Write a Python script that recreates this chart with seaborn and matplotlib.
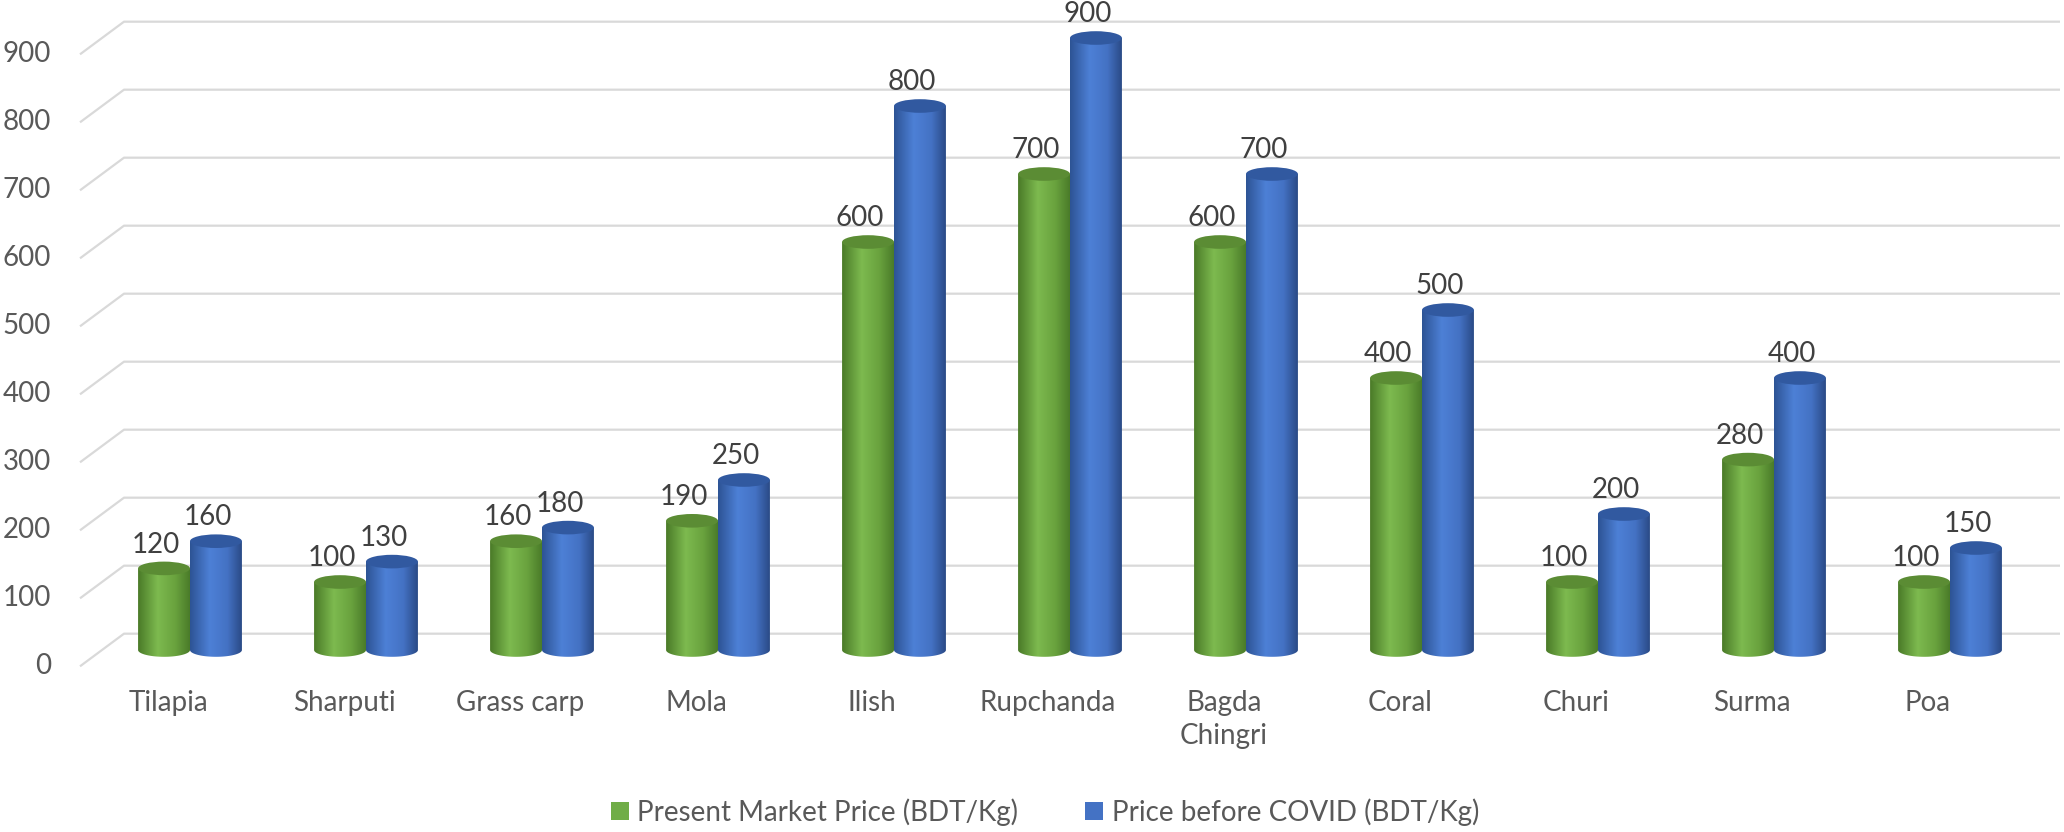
import numpy as np
import pandas as pd
import matplotlib
matplotlib.use("Agg")
import matplotlib.pyplot as plt
import seaborn as sns
from matplotlib.path import Path
from matplotlib.patches import PathPatch, Ellipse, Patch
from matplotlib.colors import LinearSegmentedColormap

# 数据
fish = ['Tilapia', 'Sharputi', 'Grass carp', 'Mola', 'Ilish', 'Rupchanda',
        'Bagda\nChingri', 'Coral', 'Churi', 'Surma', 'Poa']
present_price = [120, 100, 160, 190, 600, 700, 600, 400, 100, 280, 100]
before_covid = [160, 130, 180, 250, 800, 900, 700, 500, 200, 400, 150]
series_names = ['Present Market Price (BDT/Kg)', 'Price before COVID (BDT/Kg)']
y_ticks = [0, 100, 200, 300, 400, 500, 600, 700, 800, 900]

df = pd.DataFrame({
    'fish': fish * 2,
    'price': present_price + before_covid,
    'series': [series_names[0]] * len(fish) + [series_names[1]] * len(fish),
})

sns.set_theme(style="white")
plt.rcParams['font.family'] = ['Lato', 'DejaVu Sans']

W, H = 2064, 832
fig = plt.figure(figsize=(W / 100, H / 100), dpi=100)
ax = fig.add_axes([0, 0, 1, 1])

# 像素 -> 数据坐标的映射（柱子所在的中间深度平面）
x0_px, x_step = 190, 176
y0_px, y_scale = 650, 0.68
xlim = (-x0_px / x_step, (W - x0_px) / x_step)
ylim = ((y0_px - H) / y_scale, y0_px / y_scale)

base_colors = ['#70AD47', '#4472C4']
sns.barplot(data=df, x='fish', y='price', hue='series', hue_order=series_names,
            palette=base_colors, width=0.59, gap=0, saturation=1,
            legend=False, ax=ax)

# 3D 深度偏移
dx, dy = 0.125, 24
grid_color = '#d9d9d9'
for v in y_ticks:
    ax.plot([-0.5 - dx, -0.5 + dx, 10.5 + dx], [v - dy, v + dy, v + dy],
            color=grid_color, lw=1.6, zorder=1, solid_capstyle='butt')
    ax.text(-0.5 - dx - 29 / x_step, v - dy, f"{v}", ha='right', va='center',
            fontsize=20, color='#595959')

for i, name in enumerate(fish):
    ax.text(i - dx, (y0_px - 690) / y_scale, name, ha='center', va='top',
            fontsize=20, color='#595959', linespacing=1.35)

# 圆柱效果
cmaps = [
    LinearSegmentedColormap.from_list('g', [(0, '#4a7a28'), (0.38, '#7dba4f'),
                                            (0.72, '#69a23e'), (1, '#4a7b29')]),
    LinearSegmentedColormap.from_list('b', [(0, '#2d5394'), (0.38, '#4d80d6'),
                                            (0.72, '#4472c4'), (1, '#2a4a86')]),
]
top_colors = ['#5b8c34', '#3159a0']
ell_h = 20
grad = np.linspace(0, 1, 256).reshape(1, -1)

for k, cont in enumerate(ax.containers):
    for rect in cont:
        x0, w, h = rect.get_x(), rect.get_width(), rect.get_height()
        rect.set_visible(False)
        xc = x0 + w / 2
        t = np.linspace(np.pi, 2 * np.pi, 60)
        verts = [(x0, h), (x0, 0)] + list(zip(xc + w / 2 * np.cos(t), ell_h / 2 * np.sin(t))) \
            + [(x0 + w, h), (x0, h)]
        codes = [Path.MOVETO] + [Path.LINETO] * (len(verts) - 2) + [Path.CLOSEPOLY]
        body = PathPatch(Path(verts, codes), facecolor='none', edgecolor='none', zorder=3 + k)
        ax.add_patch(body)
        im = ax.imshow(grad, cmap=cmaps[k], aspect='auto', interpolation='bilinear',
                       extent=[x0, x0 + w, -ell_h / 2 - 1, h], zorder=3 + k)
        im.set_clip_path(body)
        ax.add_patch(Ellipse((xc, h), w, ell_h, facecolor=top_colors[k],
                             edgecolor='none', zorder=3 + k))
        ax.text(xc - 8 / x_step, h + 35, f"{int(h)}", ha='center', va='center',
                fontsize=20, color='#404040', zorder=6)

ax.set_xlim(*xlim)
ax.set_ylim(*ylim)
ax.set_axis_off()

handles = [Patch(facecolor=c, edgecolor='none') for c in base_colors]
fig.legend(handles, series_names, loc='center', bbox_to_anchor=(1045 / W, 1 - 812 / H),
           ncol=2, frameon=False, fontsize=20, labelcolor='#595959',
           handlelength=0.65, handleheight=0.65, handletextpad=0.3, columnspacing=2.4)

fig.savefig('out.png', dpi=100)
